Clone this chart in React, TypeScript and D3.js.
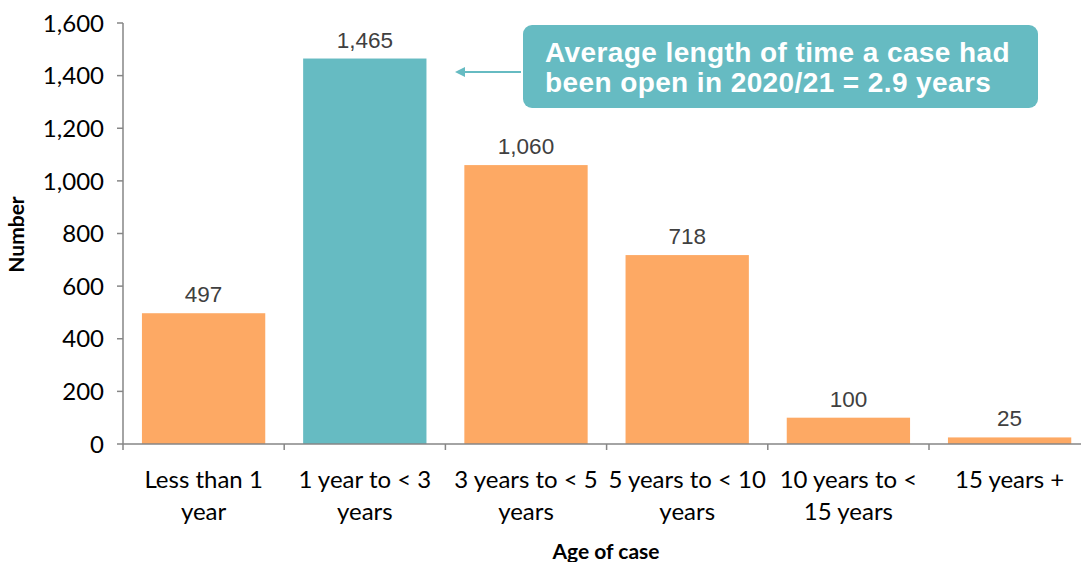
import React from "react";
import * as d3 from "d3";

const categories = [
  ["Less than 1", "year"],
  ["1 year to < 3", "years"],
  ["3 years to < 5", "years"],
  ["5 years to < 10", "years"],
  ["10 years to <", "15 years"],
  ["15 years +"],
];
const values = [497, 1465, 1060, 718, 100, 25];
const highlight = [false, true, false, false, false, false];
const yTicks = [0, 200, 400, 600, 800, 1000, 1200, 1400, 1600];
const annotation = ["Average length of time a case had", "been open in 2020/21 = 2.9 years"];

const W = 1081;
const H = 562;
const left = 123;
const bandW = 161.2;
const top = 23;
const bottom = 444;

export default function App() {
  const keys = categories.map((_, i) => String(i));
  const x = d3.scaleBand().domain(keys).range([left, left + bandW * 6]).paddingInner(0.235).paddingOuter(0.1175);
  const y = d3.scaleLinear().domain([0, 1600]).range([bottom, top]);
  const fmt = d3.format(",");
  const axisColor = "#868686";
  const orange = "#FDA964";
  const teal = "#66BBC2";
  const calibri = "Lato, 'Open Sans', sans-serif";
  const arial = "'Liberation Sans', Arial, sans-serif";
  return (
    <svg width={W} height={H} style={{ position: "absolute", left: 0, top: 0, background: "#fff" }}>
      {values.map((v, i) => (
        <rect key={i} x={x(String(i))} y={y(v)} width={x.bandwidth()} height={y(0) - y(v)} fill={highlight[i] ? teal : orange} />
      ))}
      {values.map((v, i) => (
        <text key={i} x={(x(String(i)) as number) + x.bandwidth() / 2} y={y(v) - 11} textAnchor="middle" fontFamily={arial} fontSize={22.5} fill="#404040">
          {fmt(v)}
        </text>
      ))}
      {/* y axis */}
      <line x1={left} x2={left} y1={top} y2={bottom} stroke={axisColor} strokeWidth={1.5} />
      {yTicks.map((t) => (
        <g key={t}>
          <line x1={left - 6} x2={left} y1={y(t)} y2={y(t)} stroke={axisColor} strokeWidth={1.5} />
          <text x={left - 19} y={y(t)} dy="0.36em" textAnchor="end" fontFamily={calibri} fontSize={24} fill="#000">
            {fmt(t)}
          </text>
        </g>
      ))}
      {/* x axis */}
      <line x1={left} x2={left + bandW * 6} y1={bottom} y2={bottom} stroke={axisColor} strokeWidth={1.5} />
      {d3.range(7).map((i) => (
        <line key={i} x1={left + bandW * i} x2={left + bandW * i} y1={bottom} y2={bottom + 6} stroke={axisColor} strokeWidth={1.5} />
      ))}
      {categories.map((lines, i) => (
        <text key={i} textAnchor="middle" fontFamily={calibri} fontSize={24} fill="#000">
          {lines.map((l, j) => (
            <tspan key={j} x={(x(String(i)) as number) + x.bandwidth() / 2} y={488 + j * 32}>
              {l}
            </tspan>
          ))}
        </text>
      ))}
      <text x={606} y={559} textAnchor="middle" fontFamily={calibri} fontWeight="bold" fontSize={21} fill="#000">
        Age of case
      </text>
      <text transform={`translate(24, ${(top + bottom) / 2 + 1}) rotate(-90)`} textAnchor="middle" fontFamily={calibri} fontWeight="bold" fontSize={21} fill="#000">
        Number
      </text>
      {/* annotation */}
      <rect x={523} y={25} width={515} height={83} rx={9} fill={teal} />
      <line x1={521} x2={462} y1={72} y2={72} stroke={teal} strokeWidth={2} />
      <path d="M455,72 L465,67 L465,77 Z" fill={teal} />
      {annotation.map((l, j) => (
        <text key={j} x={545} y={62 + j * 30} fontFamily={arial} fontWeight="bold" fontSize={28} letterSpacing={0.4} fill="#fff">
          {l}
        </text>
      ))}
    </svg>
  );
}
